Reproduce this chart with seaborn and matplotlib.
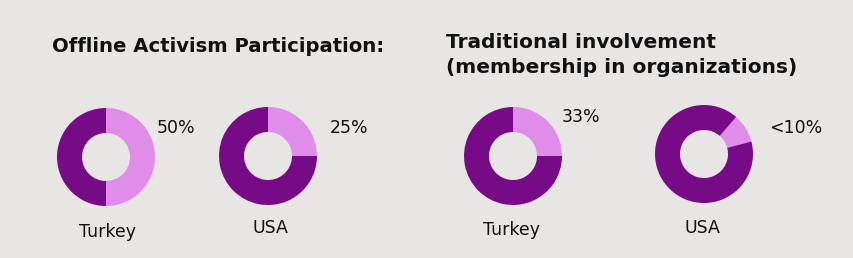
import matplotlib
matplotlib.use("Agg")
import matplotlib.pyplot as plt
import seaborn as sns

# ---- data ----
group_titles = ["Offline Activism Participation:",
                "Traditional involvement\n(membership in organizations)"]
countries = ["Turkey", "USA", "Turkey", "USA"]
light_share = [50, 25, 25, 9.5]          # share drawn in light purple (as pictured)
pct_labels = ["50%", "25%", "33%", "<10%"]

# ---- style ----
BG = "#e8e6e5"
DARK = "#770a87"
LIGHT = "#e08ce9"
sns.set_theme(style="white", rc={"figure.facecolor": BG, "axes.facecolor": "none"})
plt.rcParams["font.family"] = ["DejaVu Sans"]
palette = sns.color_palette([LIGHT, DARK])

W, H = 854, 258
fig = plt.figure(figsize=(W / 100, H / 100), dpi=100)
fig.patch.set_facecolor(BG)

def px(x, y):
    return x / W, 1 - y / H

# layout (pixels): donut centres, radius, start angles
centers = [(106, 157), (268, 156), (513, 156), (704, 154)]
R = 49
starts = [90, 90, 90, 49]
pct_pos = [(157, 133), (330, 133), (562, 122), (769, 133)]
name_pos = [(108, 237), (270, 233), (512, 235), (702, 233)]

for i, (cx, cy) in enumerate(centers):
    ax = fig.add_axes([(cx - R) / W, 1 - (cy + R) / H, 2 * R / W, 2 * R / H])
    v = light_share[i]
    ax.pie([v, 100 - v], colors=palette, startangle=starts[i], counterclock=False,
           radius=1.0, wedgeprops=dict(width=0.51, linewidth=0))
    ax.set_xlim(-1, 1)
    ax.set_ylim(-1, 1)
    ax.set_aspect("equal")
    ax.axis("off")

    x, y = pct_pos[i]
    fig.text(*px(x, y), pct_labels[i], fontsize=12.5, color="#111111",
             ha="left", va="baseline")
    x, y = name_pos[i]
    fig.text(*px(x, y), countries[i], fontsize=12.5, color="#111111",
             ha="center", va="baseline")

fig.text(*px(52, 52), group_titles[0], fontsize=14.1, fontweight="bold",
         color="#111111", ha="left", va="baseline")
l1, l2 = group_titles[1].split("\n")
fig.text(*px(446, 48), l1, fontsize=14.5, fontweight="bold",
         color="#111111", ha="left", va="baseline")
fig.text(*px(446, 73), l2, fontsize=14.5, fontweight="bold",
         color="#111111", ha="left", va="baseline")

fig.savefig("out.png", dpi=100, facecolor=BG)
